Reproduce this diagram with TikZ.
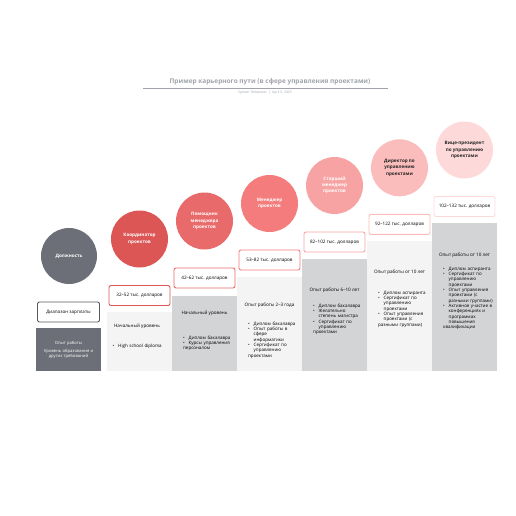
\documentclass[tikz,border=0pt]{standalone}
\usepackage{fontspec}
\setmainfont{Open Sans}
\usetikzlibrary{positioning}

\definecolor{legendgray}{HTML}{6C6F77}
\definecolor{boxgray}{HTML}{D3D4D6}
\definecolor{boxlight}{HTML}{F4F4F4}
\definecolor{titlegray}{HTML}{A0A3AB}
\definecolor{stepA}{HTML}{DC5656}
\definecolor{stepB}{HTML}{E96A6A}
\definecolor{stepC}{HTML}{F47C7C}
\definecolor{stepD}{HTML}{F8A3A3}
\definecolor{stepE}{HTML}{FBBCBC}
\definecolor{stepF}{HTML}{FDD9D9}

\newcommand\bitem[1]{\par\parindent=0pt\leftskip=5.5pt\noindent\llap{\makebox[5.5pt][l]{\textbullet}}#1}

\begin{document}
\begin{tikzpicture}[x=1pt,y=-1pt,line join=round,
  jobcircle/.style={circle,minimum size=57pt,inner sep=0pt,align=center,
    font=\fontsize{4.6}{6.2}\selectfont\bfseries,text=white},
  salary/.style={draw,rounded corners=2pt,line width=0.9pt,fill=white,
    minimum width=61pt,minimum height=20pt,inner sep=0pt,
    font=\fontsize{4.6}{5.5}\selectfont},
  level/.style={inner sep=0pt,font=\fontsize{4.6}{5.5}\selectfont},
  reqlist/.style={anchor=north west,text width=58pt,align=left,inner sep=0pt,
    font=\fontsize{4.5}{5.3}\selectfont}]
  \useasboundingbox (0,0) rectangle (516,516);

  % title
  \node[font=\fontsize{6.5}{8}\selectfont\bfseries,text=titlegray] (title) at (270,81.5)
    {Пример карьерного пути (в сфере управления проектами)};
  \draw[titlegray,line width=0.6pt] (143,88) -- (388,88);
  \node[font=\fontsize{3.4}{4}\selectfont,text=titlegray] (subtitle) at (265,93)
    {System Templates \ | \ April 5, 2025};

  % legend
  \node[jobcircle,fill=legendgray,minimum size=56pt] (job0) at (69,256) {Должность};
  \node[salary,draw=legendgray!80!black,minimum width=62pt] (sal0) at (68.5,312) {Диапазон зарплаты};
  \fill[legendgray] (36,328) rectangle (101,371);
  \node[level,text=white,font=\fontsize{4.2}{5}\selectfont] (exp0) at (68.5,343) {Опыт работы};
  \node[level,text=white,align=center,font=\fontsize{4.2}{5}\selectfont] (req0) at (68.5,354)
    {Уровень образования и\\других требований};

  % step 1
  \fill[boxlight] (107,312) rectangle (172,371);
  \node[jobcircle,fill=stepA] (job1) at (139.5,239) {Координатор\\проектов};
  \node[salary,draw=stepA] (sal1) at (139.5,295.5) {32–52 тыс. долларов};
  \node[level] (exp1) at (137,326) {Начальный уровень};
  \node[reqlist] (req1) at (118,341.8) {\bitem{High school diploma}};

  % step 2
  \fill[boxgray] (172,295.5) rectangle (237,371);
  \node[jobcircle,fill=stepB] (job2) at (204.5,221) {Помощник\\менеджера\\проектов};
  \node[salary,draw=stepB] (sal2) at (204.5,278) {42–62 тыс. долларов};
  \node[level] (exp2) at (204.5,313.5) {Начальный уровень};
  \node[reqlist] (req2) at (183,333.8)
    {\bitem{Диплом бакалавра}\bitem{Курсы управления\\персоналом}};

  % step 3
  \fill[boxlight] (237,277) rectangle (302,371);
  \node[jobcircle,fill=stepC] (job3) at (269.5,203.5) {Менеджер\\проектов};
  \node[salary,draw=stepC] (sal3) at (269.5,260) {53–82 тыс. долларов};
  \node[level] (exp3) at (269.5,305) {Опыт работы 2–3 года};
  \node[reqlist] (req3) at (248,319.8)
    {\bitem{Диплом бакалавра}\bitem{Опыт работы в\\сфере\\информатики}%
     \bitem{Сертификат по\\управлению\\проектами}};

  % step 4
  \fill[boxgray] (302,259) rectangle (367,371);
  \node[jobcircle,fill=stepD] (job4) at (334.5,185.5) {Старший\\менеджер\\проектов};
  \node[salary,draw=stepD] (sal4) at (334.5,242) {82–102 тыс. долларов};
  \node[level] (exp4) at (334.5,290) {Опыт работы 6–10 лет};
  \node[reqlist] (req4) at (313,301.8)
    {\bitem{Диплом бакалавра}\bitem{Желательно\\степень магистра}%
     \bitem{Сертификат по\\управлению\\проектами}};

  % step 5
  \fill[boxlight] (367,241) rectangle (432,371);
  \node[jobcircle,fill=stepE,text=black!85] (job5) at (399.5,167.8) {Директор по\\управлению\\проектами};
  \node[salary,draw=stepE] (sal5) at (399.5,224.3) {92–122 тыс. долларов};
  \node[level] (exp5) at (399.5,272) {Опыт работы от 10 лет};
  \node[reqlist] (req5) at (378,288.8)
    {\bitem{Диплом аспиранта}\bitem{Сертификат по\\управлению\\проектами}%
     \bitem{Опыт управления\\проектами (с\\разными группами)}};

  % step 6
  \fill[boxgray] (432,222.5) rectangle (497,371);
  \node[jobcircle,fill=stepF,text=black!85] (job6) at (464.5,150) {Вице-президент\\по управлению\\проектами};
  \node[salary,draw=stepF] (sal6) at (464.5,206.5) {102–132 тыс. долларов};
  \node[level] (exp6) at (464.5,255) {Опыт работы от 10 лет};
  \node[reqlist] (req6) at (443,264.8)
    {\bitem{Диплом аспиранта}\bitem{Сертификат по\\управлению\\проектами}%
     \bitem{Опыт управления\\проектами (с\\разными группами)}%
     \bitem{Активное участие в\\конференциях и\\программах\\повышения\\квалификации}};
\end{tikzpicture}
\end{document}
